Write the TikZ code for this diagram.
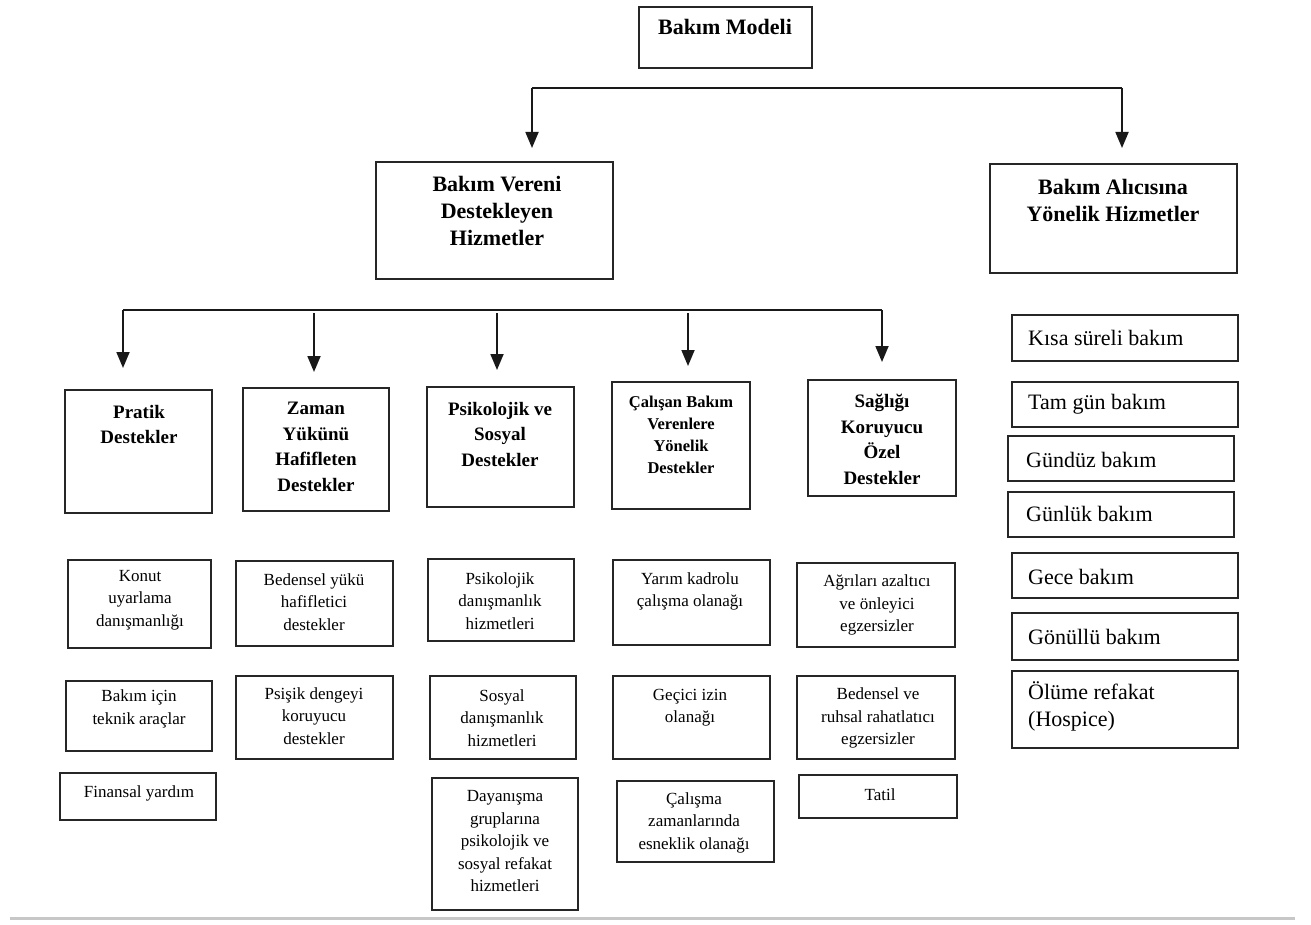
\documentclass[tikz,border=0pt]{standalone}
\usepackage{fontspec}
\setmainfont{Liberation Serif}
\usetikzlibrary{arrows.meta}

% box drawn from its two corners (x1,y1,x2,y2), named #1
\newcommand\bx[5]{\node[boxshape, minimum width={(#4-#2)*1pt}, minimum height={(#5-#3)*1pt}] (#1) at ({(#2+#4)/2},{(#3+#5)/2}) {};}

\tikzset{
  boxshape/.style={draw=black!85, line width=1.8pt, inner sep=0pt},
  hd/.style={font=\bfseries\fontsize{22}{27}\selectfont, align=center, inner sep=0pt},
  cat/.style={font=\bfseries\fontsize{19}{25.5}\selectfont, align=center, inner sep=0pt},
  catsm/.style={font=\bfseries\fontsize{16.5}{22}\selectfont, align=center, inner sep=0pt},
  sub/.style={font=\fontsize{17}{22.5}\selectfont, align=center, inner sep=0pt},
  rc/.style={font=\fontsize{22}{27}\selectfont, align=left, anchor=west, inner sep=0pt},
  bar/.style={line width=1.8pt, black!90},
  arr/.style={line width=1.8pt, black!90, -{Triangle[width=13pt,length=16pt]}}
}

\begin{document}
\begin{tikzpicture}[x=1pt,y=-1pt]
\useasboundingbox (0,0) rectangle (1311,925);

% top level
\bx{model}{639}{7}{812}{68}
\node[hd] (model-t) at (725,27) {Bakım Modeli};

\bx{veren}{376}{162}{613}{279}
\node[hd] (veren-t) at (497,211) {Bakım Vereni\\Destekleyen\\Hizmetler};

\bx{alici}{990}{164}{1237}{273}
\node[hd] (alici-t) at (1113,200.5) {Bakım Alıcısına\\Yönelik Hizmetler};

% first branching
\coordinate (b1l) at (532,88);
\coordinate (b1r) at (1122,88);
\coordinate (t1l) at (532,148);
\coordinate (t1r) at (1122,148);
\draw[bar] (b1l) -- (b1r);
\draw[arr] (b1l) -- (t1l);
\draw[arr] (b1r) -- (t1r);

% second branching
\coordinate (b2a) at (123,310);
\coordinate (b2e) at (882,310);
\draw[bar] (b2a) -- (b2e);
\coordinate (s2b) at (314,313);
\coordinate (s2c) at (497,313);
\coordinate (s2d) at (688,313);
\coordinate (t2a) at (123,368);
\coordinate (t2b) at (314,372);
\coordinate (t2c) at (497,370);
\coordinate (t2d) at (688,366);
\coordinate (t2e) at (882,362);
\draw[arr] (b2a) -- (t2a);
\draw[arr] (s2b) -- (t2b);
\draw[arr] (s2c) -- (t2c);
\draw[arr] (s2d) -- (t2d);
\draw[arr] (b2e) -- (t2e);

% category boxes
\bx{pratik}{65}{390}{212}{513}
\node[cat] (pratik-t) at (139,424.5) {Pratik\\Destekler};
\bx{zaman}{243}{388}{389}{511}
\node[cat] (zaman-t) at (316,447) {Zaman\\Yükünü\\Hafifleten\\Destekler};
\bx{psiko}{427}{387}{574}{507}
\node[cat] (psiko-t) at (500,434) {Psikolojik ve\\Sosyal\\Destekler};
\bx{calisan}{612}{382}{750}{509}
\node[catsm] (calisan-t) at (681,435) {Çalışan Bakım\\Verenlere\\Yönelik\\Destekler};
\bx{saglik}{808}{380}{956}{496}
\node[cat] (saglik-t) at (882,439.5) {Sağlığı\\Koruyucu\\Özel\\Destekler};

% column 1
\bx{konut}{68}{560}{211}{648}
\node[sub] (konut-t) at (140,600) {Konut\\uyarlama\\danışmanlığı};
\bx{teknik}{66}{681}{212}{751}
\node[sub] (teknik-t) at (139,709) {Bakım için\\teknik araçlar};
\bx{finans}{60}{773}{216}{820}
\node[sub] (finans-t) at (139,793) {Finansal yardım};

% column 2
\bx{bedensel}{236}{561}{393}{646}
\node[sub] (bedensel-t) at (314,602) {Bedensel yükü\\hafifletici\\destekler};
\bx{psisik}{236}{676}{393}{759}
\node[sub] (psisik-t) at (314,716) {Psişik dengeyi\\koruyucu\\destekler};

% column 3
\bx{pdanis}{428}{559}{574}{641}
\node[sub] (pdanis-t) at (500,601) {Psikolojik\\danışmanlık\\hizmetleri};
\bx{sdanis}{430}{676}{576}{759}
\node[sub] (sdanis-t) at (502,718) {Sosyal\\danışmanlık\\hizmetleri};
\bx{dayan}{432}{778}{578}{910}
\node[sub] (dayan-t) at (505,841.5) {Dayanışma\\gruplarına\\psikolojik ve\\sosyal refakat\\hizmetleri};

% column 4
\bx{yarim}{613}{560}{770}{645}
\node[sub] (yarim-t) at (690,591.5) {Yarım kadrolu\\çalışma olanağı};
\bx{gecici}{613}{676}{770}{759}
\node[sub] (gecici-t) at (690,707.5) {Geçici izin\\olanağı};
\bx{esnek}{617}{781}{774}{862}
\node[sub] (esnek-t) at (694,822.5) {Çalışma\\zamanlarında\\esneklik olanağı};

% column 5
\bx{agri}{797}{563}{955}{647}
\node[sub] (agri-t) at (877,605) {Ağrıları azaltıcı\\ve önleyici\\egzersizler};
\bx{ruhsal}{797}{676}{955}{759}
\node[sub] (ruhsal-t) at (878,718) {Bedensel ve\\ruhsal rahatlatıcı\\egzersizler};
\bx{tatil}{799}{775}{957}{818}
\node[sub] (tatil-t) at (880,795) {Tatil};

% care receiver services
\bx{kisa}{1012}{315}{1238}{361}
\node[rc] (kisa-t) at (1028,338) {Kısa süreli bakım};
\bx{tamgun}{1012}{382}{1238}{427}
\node[rc] (tamgun-t) at (1028,404) {Tam gün bakım};
\bx{gunduz}{1008}{436}{1234}{481}
\node[rc] (gunduz-t) at (1026,460) {Gündüz bakım};
\bx{gunluk}{1008}{492}{1234}{537}
\node[rc] (gunluk-t) at (1026,514) {Günlük bakım};
\bx{gece}{1012}{553}{1238}{598}
\node[rc] (gece-t) at (1028,577) {Gece bakım};
\bx{gonullu}{1012}{613}{1238}{660}
\node[rc] (gonullu-t) at (1028,637) {Gönüllü bakım};
\bx{olume}{1012}{671}{1238}{748}
\node[rc] (olume-t) at (1028,706.5) {Ölüme refakat\\(Hospice)};

% bottom rule
\coordinate (rl) at (10,918);
\coordinate (rr) at (1295,918);
\draw[line width=3pt, black!22] (rl) -- (rr);
\end{tikzpicture}
\end{document}
